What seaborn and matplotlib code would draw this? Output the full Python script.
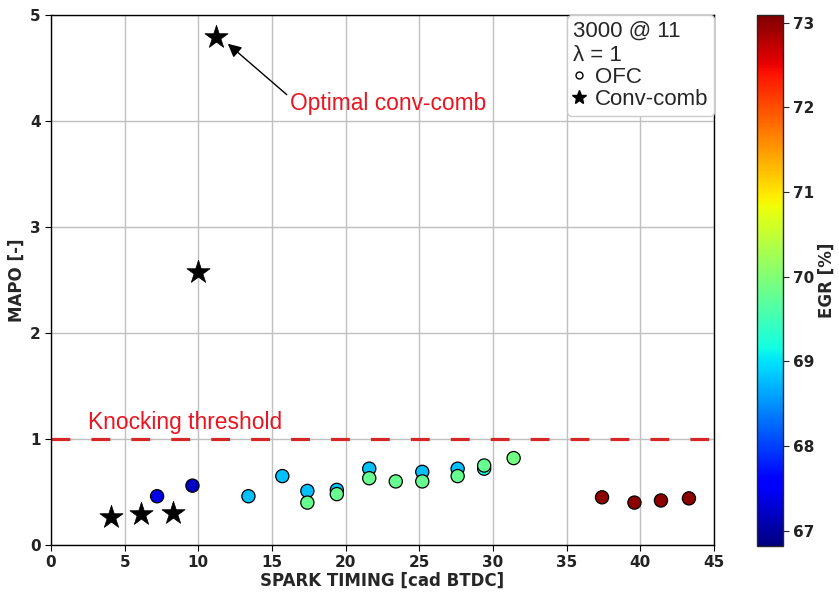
import numpy as np
import pandas as pd
import matplotlib
matplotlib.use("Agg")
import matplotlib.pyplot as plt
import seaborn as sns
from matplotlib.lines import Line2D

# OFC data
ofc_spark = [7.2, 9.6, 13.4, 15.7, 17.4, 17.4, 19.4, 19.4, 21.6, 21.6, 23.4, 25.2, 25.2,
             27.6, 27.6, 29.4, 29.4, 31.4, 37.4, 39.6, 41.4, 43.3]
ofc_mapo = [0.46, 0.56, 0.46, 0.65, 0.51, 0.40, 0.52, 0.48, 0.72, 0.63, 0.60, 0.69, 0.60,
            0.72, 0.65, 0.72, 0.75, 0.82, 0.45, 0.40, 0.42, 0.44]
ofc_egr = [67.4, 67.2, 68.8, 68.8, 68.8, 69.8, 68.8, 69.8, 68.8, 69.8, 69.8, 68.8, 69.8,
           68.8, 69.8, 69.2, 69.8, 69.9, 73.0, 73.0, 73.0, 73.0]

# Conventional combustion data
cc_spark = [4.1, 6.1, 8.3, 10.0, 11.2]
cc_mapo = [0.26, 0.29, 0.30, 2.58, 4.79]

egr_min, egr_max = 66.82, 73.09
threshold = 1.0

ofc = pd.DataFrame({"spark": ofc_spark, "mapo": ofc_mapo, "egr": ofc_egr})
cc = pd.DataFrame({"spark": cc_spark, "mapo": cc_mapo})

sns.set_style("ticks")
plt.rcParams["font.family"] = ["DejaVu Sans"]

fig = plt.figure(figsize=(8.39, 5.96), dpi=100)
ax = fig.add_axes([0.0608, 0.0856, 0.7902, 0.889])
cax = fig.add_axes([0.902, 0.0839, 0.031, 0.8909])

ax.grid(True, color="#c0c0c0", linewidth=1.0, zorder=0)
ax.set_axisbelow(True)

ax.axhline(threshold, color="#d62728", linestyle=(0, (5.9, 6.6)), linewidth=2.3, zorder=1)

cmap = plt.get_cmap("jet")
norm = matplotlib.colors.Normalize(egr_min, egr_max)

sns.scatterplot(data=ofc, x="spark", y="mapo", hue="egr", palette=cmap, hue_norm=norm,
                s=90, edgecolor="black", linewidth=0.9, legend=False, ax=ax, zorder=3)
sns.scatterplot(data=cc, x="spark", y="mapo", color="black", marker="*", s=310,
                edgecolor="black", linewidth=0.5, legend=False, ax=ax, zorder=3)

ax.set_xlim(0, 45)
ax.set_ylim(0, 5)
ax.set_xticks(np.arange(0, 46, 5))
ax.set_yticks(np.arange(0, 6, 1))
ax.tick_params(labelsize=11, direction="out", length=4, color="black")
for lab in ax.get_xticklabels() + ax.get_yticklabels():
    lab.set_fontweight("bold")
    lab.set_color("#222222")
for sp in ax.spines.values():
    sp.set_color("black")
    sp.set_linewidth(1.0)
ax.set_xlabel("SPARK TIMING [cad BTDC]", fontsize=12, fontweight="bold", labelpad=1)
ax.set_ylabel("MAPO [-]", fontsize=12, fontweight="bold", labelpad=3)

ax.text(2.5, 1.16, "Knocking threshold", color="#ec1420", fontsize=16.4,
        family="Liberation Sans", va="center", ha="left", zorder=4)
ax.text(16.2, 4.17, "Optimal conv-comb", color="#ec1420", fontsize=16.4,
        family="Liberation Sans", va="center", ha="left", zorder=4)
ax.annotate("", xy=(12.0, 4.73), xytext=(16.0, 4.25),
            arrowprops=dict(arrowstyle="-|>", color="black", lw=1.0, shrinkA=0, shrinkB=0,
                            mutation_scale=20))

handles = [Line2D([], [], linestyle="none", marker="o", markerfacecolor="white",
                  markeredgecolor="black", markersize=5),
           Line2D([], [], linestyle="none", marker="*", color="black", markersize=10)]
leg = ax.legend(handles, ["OFC", "Conv-comb"], loc="upper right", title="3000 @ 11\nλ = 1",
                alignment="left", prop={"family": "Liberation Sans", "size": 16},
                title_fontproperties={"family": "Liberation Sans", "size": 16},
                handlelength=0.6, handletextpad=0.4, labelspacing=0.05, borderpad=0.25,
                borderaxespad=0.0, framealpha=1, edgecolor="#cccccc", fancybox=True)

sm = matplotlib.cm.ScalarMappable(norm=norm, cmap=cmap)
cb = fig.colorbar(sm, cax=cax)
cb.set_ticks([67, 68, 69, 70, 71, 72, 73])
cb.ax.tick_params(labelsize=11, length=4)
for lab in cb.ax.get_yticklabels():
    lab.set_fontweight("bold")
    lab.set_color("#222222")
cb.set_label("EGR [%]", fontsize=12, fontweight="bold", labelpad=2)
cb.outline.set_linewidth(1.0)

fig.savefig("out.png", dpi=100)
